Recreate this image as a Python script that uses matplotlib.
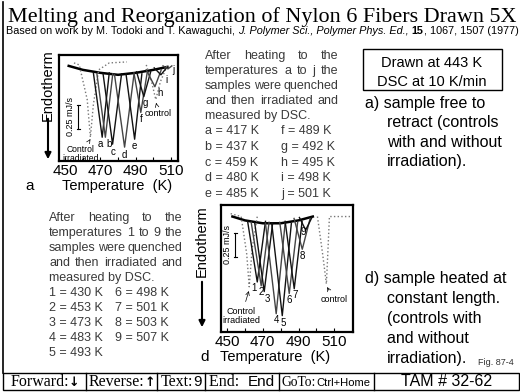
import matplotlib
matplotlib.use('Agg')
import matplotlib.pyplot as plt

# ---- data ----
# panel a: sample free to retract, peaks labelled a..j
a_labels = ['a', 'b', 'c', 'd', 'e', 'f', 'g', 'h', 'i', 'j']
a_peak_T = [471.0, 472.8, 476.9, 483.7, 489.4, 492.9, 494.6, 500.9, 504.3, 508.3]
a_depth = [-0.78, -0.78, -0.85, -0.88, -0.80, -0.53, -0.37, -0.27, -0.15, -0.09]
a_foot_L = [466.0, 468.0, 471.5, 478.0, 484.5, 489.0, 490.5, 496.0, 500.5, 505.5]
a_foot_R = [475.0, 477.0, 482.0, 489.0, 493.5, 496.5, 498.5, 504.5, 507.5, 510.5]
a_foot_y = [-0.13, -0.14, -0.14, -0.15, -0.14, -0.13, -0.12, -0.10, -0.08, -0.06]
a_base_T = [452, 460, 470, 480, 490, 500, 508]
a_base_y = [-0.06, -0.10, -0.13, -0.15, -0.13, -0.10, -0.07]
a_ctrl_irr_T = [455, 458, 462.5, 464.3, 466, 469, 475, 485]
a_ctrl_irr_y = [-0.03, -0.05, -0.40, -0.78, -0.45, -0.10, -0.03, -0.02]
a_ctrl_T = [496, 499, 501.4, 504, 508]
a_ctrl_y = [-0.05, -0.22, -0.40, -0.22, -0.05]

# panel d: sample heated at constant length, peaks 1..9
d_labels = ['1', '2', '3', '4', '5', '6', '7', '8', '9']
d_peak_T = [466.9, 469.1, 470.8, 477.5, 480.9, 484.8, 487.6, 492.1, 494.0]
d_depth = [-0.74, -0.78, -0.84, -1.07, -1.09, -0.86, -0.81, -0.40, -0.20]
d_foot_L = [461.5, 463.5, 465.5, 471.5, 475.0, 479.5, 482.5, 487.5, 490.5]
d_foot_R = [471.5, 473.5, 475.5, 482.5, 486.0, 489.5, 492.0, 496.5, 497.5]
d_foot_y = [-0.11, -0.12, -0.13, -0.13, -0.13, -0.12, -0.11, -0.08, -0.07]
d_base_T = [453, 460, 470, 480, 490, 498]
d_base_y = [-0.06, -0.10, -0.13, -0.13, -0.10, -0.06]
d_ctrl_irr_T = [452, 457.9, 461, 462.4, 464, 466.9]
d_ctrl_irr_y = [-0.03, -0.06, -0.45, -0.79, -0.40, -0.06]
d_ctrl_T = [500.6, 503.5, 505.6, 506.5, 507.3, 520]
d_ctrl_y = [-0.06, -0.45, -0.76, -0.40, -0.06, -0.06]

a_heat = ['a = 417 K', 'b = 437 K', 'c = 459 K', 'd = 480 K', 'e = 485 K',
          'f = 489 K', 'g = 492 K', 'h = 495 K', 'i = 498 K', 'j = 501 K']
d_heat = ['1 = 430 K', '2 = 453 K', '3 = 473 K', '4 = 483 K', '5 = 493 K',
          '6 = 498 K', '7 = 501 K', '8 = 503 K', '9 = 507 K']
xtick_vals = [450, 470, 490, 510]

W, H = 520, 392
fig = plt.figure(figsize=(W / 100, H / 100), dpi=100)
bg = fig.add_axes([0, 0, 1, 1])
bg.set_xlim(0, W)
bg.set_ylim(H, 0)
bg.axis('off')
renderer = fig.canvas.get_renderer()

SANS = 'Liberation Sans'
SERIF = 'Liberation Serif'


def run(pieces, x, y, width=None, center=None, color='k'):
    # pieces: list of (text, family, size, weight, style); laid out left to right
    texts = [bg.text(x, y, s, family=f, weight=w, style=st, fontsize=sz,
                     color=color, va='baseline', ha='left')
             for s, f, sz, w, st in pieces]

    def layout(start):
        cx = start
        for t in texts:
            t.set_x(cx)
            cx += t.get_window_extent(renderer).width
        return cx - start

    total = layout(x)
    if width is not None:
        for t, p in zip(texts, pieces):
            t.set_fontsize(p[2] * width / total)
        total = layout(x)
    if center is not None:
        layout(center - total / 2)
    return texts


def justify(line, x0, x1, y, size, color):
    words = line.split()
    ts = [bg.text(x0, y, w, family=SANS, fontsize=size, color=color,
                  va='baseline', ha='left') for w in words]
    ws = [t.get_window_extent(renderer).width for t in ts]
    gap = (x1 - x0 - sum(ws)) / (len(ws) - 1)
    cx = x0
    for t, w in zip(ts, ws):
        t.set_x(cx)
        cx += w + gap


# title and reference
run([('Melting and Reorganization of Nylon 6 Fibers Drawn 5X', SERIF, 18, 'normal', 'normal')],
    8, 22, width=510)
run([('Based on work by M. Todoki and T. Kawaguchi, ', SANS, 7, 'normal', 'normal'),
     ('J. Polymer Sci., Polymer Phys. Ed.,', SANS, 7, 'normal', 'italic'),
     (' ', SANS, 7, 'normal', 'normal'),
     ('15', SANS, 7, 'bold', 'normal'),
     (', 1067, 1507 (1977)', SANS, 7, 'normal', 'normal')],
    6, 34, width=511)

bg.plot([3, 3], [2, 373], color='k', lw=1.2)

# middle text block
gray = '#3a3a3a'
fs = 9.0
mid = ['After heating to the', 'temperatures a to j the', 'samples were quenched',
       'and then irradiated and']
for i, line in enumerate(mid):
    justify(line, 205, 338, 59 + 15 * i, fs, gray)
bg.text(205, 119, 'measured by DSC.', family=SANS, fontsize=fs, color=gray, va='baseline')
for i in range(5):
    bg.text(205, 134.5 + 15.5 * i, a_heat[i], family=SANS, fontsize=fs, color=gray, va='baseline')
    bg.text(281, 134.5 + 15.5 * i, a_heat[i + 5], family=SANS, fontsize=fs, color=gray, va='baseline')

low = ['After heating to the', 'temperatures 1 to 9 the', 'samples were quenched',
       'and then irradiated and']
for i, line in enumerate(low):
    justify(line, 49, 182, 221 + 15 * i, fs, gray)
bg.text(49, 281, 'measured by DSC.', family=SANS, fontsize=fs, color=gray, va='baseline')
for i in range(5):
    bg.text(49, 296 + 15 * i, d_heat[i], family=SANS, fontsize=fs, color=gray, va='baseline')
for i in range(4):
    bg.text(115, 296 + 15 * i, d_heat[i + 5], family=SANS, fontsize=fs, color=gray, va='baseline')

# right hand notes
bg.add_patch(plt.Rectangle((363, 49), 139, 41, fill=False, lw=1.0, ec='k'))
bg.text(432, 67, 'Drawn at 443 K', family=SANS, fontsize=10.5, ha='center', va='baseline')
bg.text(432, 86, 'DSC at 10 K/min', family=SANS, fontsize=10.5, ha='center', va='baseline')
right_a = ['retract (controls', 'with and without', 'irradiation).']
right_d = ['constant length.', '(controls with', 'and without', 'irradiation).']
bg.text(365, 108, 'a) sample free to', family=SANS, fontsize=11.5, va='baseline')
for i, s in enumerate(right_a):
    bg.text(387, 127 + 19.7 * i, s, family=SANS, fontsize=11.5, va='baseline')
bg.text(365, 283, 'd) sample heated at', family=SANS, fontsize=11.5, va='baseline')
for i, s in enumerate(right_d):
    bg.text(387, 303 + 20 * i, s, family=SANS, fontsize=11.5, va='baseline')
bg.text(478, 365, 'Fig. 87-4', family=SANS, fontsize=6.5, color='#333', va='baseline')

# navigation bar
bg.add_patch(plt.Rectangle((3, 373), 516, 17, fill=False, lw=1.0, ec='k'))
for xs in [86, 157, 205, 279, 374]:
    bg.plot([xs, xs], [373, 390], color='k', lw=1.0)
nav_y = 386
run([('Forward:', SERIF, 11.5, 'normal', 'normal'), ('\u2193', 'DejaVu Sans', 9, 'bold', 'normal')],
    6, nav_y, center=45)
run([('Reverse:', SERIF, 11.5, 'normal', 'normal'), ('\u2191', 'DejaVu Sans', 9, 'bold', 'normal')],
    89, nav_y, center=122)
run([('Text:', SERIF, 11.5, 'normal', 'normal'), ('9', SANS, 11, 'normal', 'normal')],
    160, nav_y, center=181)
run([('End:  ', SERIF, 11.5, 'normal', 'normal'), ('End', SANS, 11, 'normal', 'normal')],
    209, nav_y, center=242)
run([('GoTo:', SERIF, 11.5, 'normal', 'normal'), ('Ctrl+Home', SANS, 9.5, 'normal', 'normal')],
    282, nav_y, width=89)
run([('TAM # 32-62', SANS, 11.5, 'normal', 'normal')], 385, nav_y, center=447)


def panel(rect, xlim, ylim):
    l, t, r, b = rect
    ax = fig.add_axes([l / W, 1 - b / H, (r - l) / W, (b - t) / H])
    ax.set_xlim(*xlim)
    ax.set_ylim(*ylim)
    ax.set_xticks(xtick_vals)
    ax.set_xticks([460, 480, 500], minor=True)
    ax.set_yticks([])
    ax.tick_params(axis='x', which='both', direction='in', length=3, width=0.8,
                   labelsize=11, pad=2)
    for lab in ax.get_xticklabels():
        lab.set_family(SANS)
    for sp in ax.spines.values():
        sp.set_linewidth(1.6)
    return ax


def dips(ax, peak_T, depth, foot_L, foot_R, foot_y, labels, offsets):
    for k in range(len(peak_T)):
        shade = '#111111' if k % 2 == 0 else '#444444'
        ax.plot([foot_L[k], peak_T[k], foot_R[k]], [foot_y[k], depth[k], foot_y[k]],
                color=shade, lw=1.0)
        ax.annotate(labels[k], (peak_T[k], depth[k]), xytext=offsets[k],
                    textcoords='offset points', fontsize=7, family=SANS,
                    ha='center', va='top')


# panel a
ax = panel((59, 55, 178, 161), (446.5, 514.0), (-1.02, 0.05))
ax.plot(a_base_T, a_base_y, color='k', lw=1.8)
ax.plot(a_ctrl_irr_T, a_ctrl_irr_y, color='#777', lw=1.0, ls=':')
ax.plot(a_ctrl_T, a_ctrl_y, color='#777', lw=1.0, ls=':')
dips(ax, a_peak_T, a_depth, a_foot_L, a_foot_R, a_foot_y, a_labels,
     [(-1, -1), (3, -1), (0, -2), (0, -2), (0, -1), (0, -1), (1, -1), (4, -1), (4, 0), (4, 3)])
ax.plot([457.4, 457.4], [-0.45, -0.70], color='k', lw=0.8)
ax.plot([456.6, 458.2], [-0.45, -0.45], color='k', lw=0.8)
ax.plot([456.6, 458.2], [-0.70, -0.70], color='k', lw=0.8)
ax.text(453.3, -0.575, '0.25 mJ/s', rotation=90, fontsize=6.5, family=SANS,
        ha='center', va='center')
ax.annotate('Control\nirradiated', (464.3, -0.80), xytext=(459.0, -0.86),
            fontsize=6.2, family=SANS, ha='center', va='top', linespacing=0.95,
            arrowprops=dict(arrowstyle='->', lw=0.5, color='k', shrinkB=1))
ax.annotate('control', (501.4, -0.42), xytext=(503, -0.50),
            fontsize=6.5, family=SANS, ha='center', va='top',
            arrowprops=dict(arrowstyle='->', lw=0.5, color='k', shrinkB=1))
bg.text(48, 85, 'Endotherm', rotation=90, fontsize=10.5, family=SANS, ha='center', va='center')
bg.annotate('', xy=(48, 162), xytext=(48, 116),
            arrowprops=dict(arrowstyle='-|>', lw=1.5, color='k', mutation_scale=9))
bg.text(30, 190, 'a', fontsize=11, family=SANS, va='baseline', ha='center')
bg.text(117, 190, 'Temperature  (K)', fontsize=10.5, family=SANS, va='baseline', ha='center')

# panel d
ax = panel((221, 205, 353, 332), (446.6, 520.5), (-1.26, 0.06))
ax.plot(d_base_T, d_base_y, color='k', lw=1.8)
ax.plot(d_ctrl_irr_T, d_ctrl_irr_y, color='#777', lw=1.0, ls=':')
ax.plot(d_ctrl_T, d_ctrl_y, color='#777', lw=1.0, ls=':')
dips(ax, d_peak_T, d_depth, d_foot_L, d_foot_R, d_foot_y, d_labels,
     [(-2, -1), (0, -1), (2, -2), (0, -1), (1, -2), (0, -1), (1, -1), (0, -1), (-2, 2)])
ax.plot([454.5, 454.5], [-0.23, -0.48], color='k', lw=0.8)
ax.plot([453.7, 455.3], [-0.23, -0.23], color='k', lw=0.8)
ax.plot([453.7, 455.3], [-0.48, -0.48], color='k', lw=0.8)
ax.text(450.3, -0.355, '0.25 mJ/s', rotation=90, fontsize=6.5, family=SANS,
        ha='center', va='center')
ax.annotate('Control\nirradiated', (462.4, -0.82), xytext=(458, -1.00),
            fontsize=6.5, family=SANS, ha='center', va='top', linespacing=0.95,
            arrowprops=dict(arrowstyle='->', lw=0.5, color='k', shrinkB=1))
ax.annotate('control', (505.6, -0.78), xytext=(510, -0.88),
            fontsize=6.5, family=SANS, ha='center', va='top',
            arrowprops=dict(arrowstyle='->', lw=0.5, color='k', shrinkB=1))
bg.text(202, 241, 'Endotherm', rotation=90, fontsize=10.5, family=SANS, ha='center', va='center')
bg.annotate('', xy=(202, 330), xytext=(202, 279),
            arrowprops=dict(arrowstyle='-|>', lw=1.5, color='k', mutation_scale=9))
bg.text(205, 361, 'd', fontsize=11, family=SANS, va='baseline', ha='center')
bg.text(275, 361, 'Temperature  (K)', fontsize=10.5, family=SANS, va='baseline', ha='center')

fig.savefig('out.png', dpi=100)
